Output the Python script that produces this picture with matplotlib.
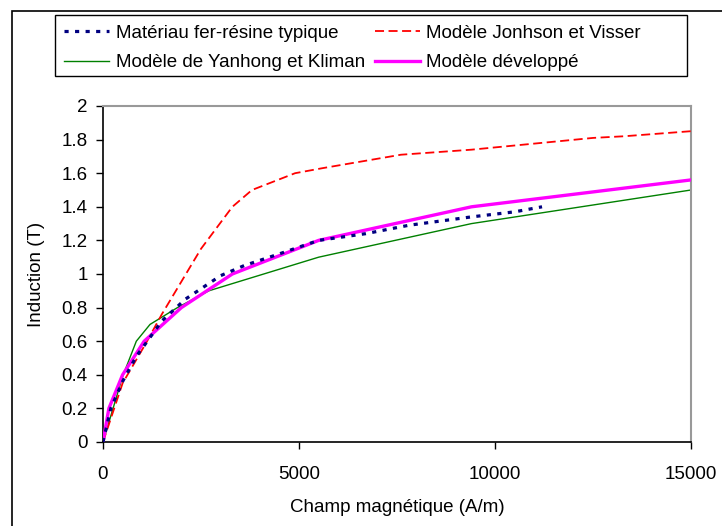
import matplotlib
matplotlib.use("Agg")
import matplotlib.pyplot as plt
from matplotlib.patches import Rectangle

plt.rcParams['font.family'] = ['Liberation Sans', 'DejaVu Sans']
fs = 13.5

# Data
H_mat = [0, 200, 500, 850, 1100, 1500, 2100, 3000, 3600, 4500, 5500, 6700, 7800, 9400, 10500, 11200]
B_mat = [0, 0.2, 0.36, 0.51, 0.59, 0.72, 0.85, 0.99, 1.05, 1.12, 1.2, 1.24, 1.29, 1.34, 1.37, 1.40]

H_jv = [0, 500, 1100, 1500, 2500, 3300, 3800, 4900, 5600, 7600, 9400, 12500, 13300, 15000]
B_jv = [0, 0.35, 0.59, 0.76, 1.15, 1.4, 1.5, 1.6, 1.63, 1.71, 1.74, 1.81, 1.82, 1.85]

H_yk = [0, 500, 850, 1200, 1900, 2700, 5500, 9400, 15000]
B_yk = [0, 0.39, 0.6, 0.7, 0.8, 0.9, 1.1, 1.3, 1.5]

H_dev = [0, 150, 500, 1050, 2000, 3300, 5500, 9400, 15000]
B_dev = [0, 0.2, 0.4, 0.6, 0.8, 1.0, 1.2, 1.4, 1.56]

x_ticks = [0, 5000, 10000, 15000]
y_ticks = [0, 0.2, 0.4, 0.6, 0.8, 1, 1.2, 1.4, 1.6, 1.8, 2]
y_labels = ['0', '0.2', '0.4', '0.6', '0.8', '1', '1.2', '1.4', '1.6', '1.8', '2']

W, Hpx = 722, 526
fig = plt.figure(figsize=(7.22, 5.26), dpi=100)
ax = fig.add_axes([103/W, 1-442/Hpx, (691-103)/W, (442-106)/Hpx])

l1, = ax.plot(H_mat, B_mat, color='#000080', lw=2.3, linestyle=(0, (1.3, 2.0)),
              dash_capstyle='butt', label='Matériau fer-résine typique', zorder=4)
l2, = ax.plot(H_jv, B_jv, color='#ff0000', lw=1.3, linestyle=(0, (5, 2.5)),
              label='Modèle Jonhson et Visser', zorder=3)
l3, = ax.plot(H_yk, B_yk, color='#008000', lw=1.0, label='Modèle de Yanhong et Kliman', zorder=2)
l4, = ax.plot(H_dev, B_dev, color='#ff00ff', lw=2.4, label='Modèle développé', zorder=3)

ax.set_xlim(0, 15000)
ax.set_ylim(0, 2)
ax.set_xticks(x_ticks)
ax.set_xticklabels([str(v) for v in x_ticks])
ax.set_yticks(y_ticks)
ax.set_yticklabels(y_labels)
ax.tick_params(direction='out', length=5, width=1, labelsize=fs, colors='black', pad=6)
ax.tick_params(axis='x', pad=12)
for s in ['top', 'right']:
    ax.spines[s].set_color('#999999')
    ax.spines[s].set_linewidth(1.5)
for s in ['left', 'bottom']:
    ax.spines[s].set_color('black')
    ax.spines[s].set_linewidth(1.2)

ax.set_xlabel('Champ magnétique (A/m)', fontsize=fs, labelpad=12)
ax.set_ylabel('Induction (T)', fontsize=fs, labelpad=12)

# outer border
fig.patches.append(Rectangle((11.5/W, -0.1), 1.2, (1 - 11/Hpx) + 0.1, transform=fig.transFigure,
                             fill=False, edgecolor='black', lw=1.2, zorder=0))

# legend frame
fig.patches.append(Rectangle((55/W, 1-76/Hpx), (687-55)/W, (76-15)/Hpx, transform=fig.transFigure,
                             facecolor='white', edgecolor='black', lw=1.0, zorder=1))

leg = fig.legend([l1, l3, l2, l4],
                 ['Matériau fer-résine typique', 'Modèle de Yanhong et Kliman',
                  'Modèle Jonhson et Visser', 'Modèle développé'],
                 ncol=2, loc='upper left', bbox_to_anchor=(55/W, 1-15/Hpx),
                 fontsize=fs, frameon=False, handlelength=2.4,
                 handletextpad=0.35, columnspacing=0.5, borderpad=0.5, labelspacing=0.67,
                 borderaxespad=0)
leg.set_zorder(5)

fig.savefig('out.png', dpi=100)
